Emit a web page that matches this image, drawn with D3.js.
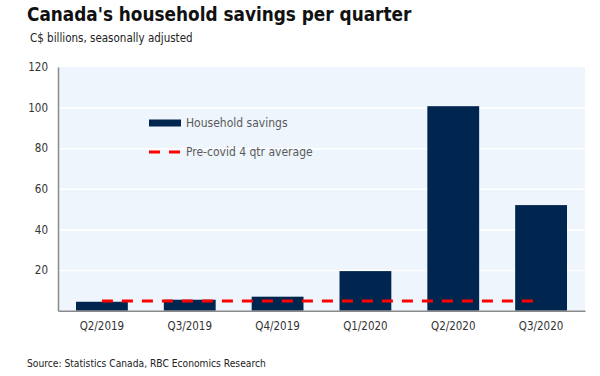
<!DOCTYPE html>
<html>
<head>
<meta charset="utf-8">
<script src="https://cdn.jsdelivr.net/npm/d3@7"></script>
<style>
  body { margin: 0; background: #fff; }
  svg text { font-family: "DejaVu Sans Condensed", "DejaVu Sans", sans-serif; }
  .title { font-size: 18.8px; font-weight: bold; fill: #111; }
  .subtitle { font-size: 11.5px; fill: #222; }
  .tick-label { font-size: 11.5px; fill: #333; }
  .legend-label { font-size: 12px; fill: #5a5a5a; }
  .source { font-size: 10.2px; fill: #222; }
</style>
</head>
<body>
<svg id="chart" width="600" height="376"></svg>
<script>
const width = 600;
const height = 376;

// data
let quarters = ["Q2/2019", "Q3/2019", "Q4/2019", "Q1/2020", "Q2/2020", "Q3/2020"];
let savings = [4.4, 5.4, 6.9, 19.5, 100.7, 52.0];
let preCovidAvg = [4.8, 4.8, 4.8, 4.8, 4.8, 4.8];
let yTicks = [20, 40, 60, 80, 100, 120];

const margin = { top: 67, bottom: 65.3, left: 58, right: 15 };
const navy = "#00264f";
const red = "#ff0000";

let svg = d3.select("svg#chart");

const plotWidth = width - margin.left - margin.right;
const plotHeight = height - margin.top - margin.bottom;

/* SCALES */
let countScale = d3.scaleLinear()
  .domain([0, 120])
  .range([plotHeight, 0]);

let quarterScale = d3.scaleBand()
  .domain(quarters)
  .range([0, plotWidth])
  .paddingInner(0.41)
  .paddingOuter(0.205);

/* TITLES */
svg.append("text")
  .attr("class", "title")
  .attr("x", 27)
  .attr("y", 21)
  .text("Canada's household savings per quarter");

svg.append("text")
  .attr("class", "subtitle")
  .attr("x", 30)
  .attr("y", 42)
  .text("C$ billions, seasonally adjusted");

svg.append("text")
  .attr("class", "source")
  .attr("x", 27)
  .attr("y", 367)
  .text("Source: Statistics Canada, RBC Economics Research");

const plot = svg.append("g").attr("id", "plot")
  .attr("transform", translate(margin.left, margin.top));

// background panel
plot.append("rect")
  .attr("x", 0)
  .attr("y", 0)
  .attr("width", plotWidth)
  .attr("height", plotHeight)
  .style("fill", "#eef5fc");

// grid lines
const gridAxis = d3.axisLeft(countScale).tickValues(yTicks.slice(0, -1))
  .tickSize(-plotWidth).tickFormat("");
let gridGroup = plot.append("g").attr("id", "grid-axis").call(gridAxis);
gridGroup.select(".domain").remove();
gridGroup.selectAll(".tick line").attr("stroke", "#ffffff").attr("stroke-width", 1.5);

/* BARS */
plot.append("g").attr("id", "bars")
  .selectAll("rect")
  .data(quarters.map((q, i) => ({ q: q, v: savings[i] })))
  .enter()
  .append("rect")
    .attr("x", d => quarterScale(d.q))
    .attr("y", d => countScale(d.v))
    .attr("width", quarterScale.bandwidth())
    .attr("height", d => plotHeight - countScale(d.v))
    .style("fill", navy);

/* AVERAGE LINE */
let avgLine = d3.line()
  .x(d => quarterScale(d.q) + quarterScale.bandwidth() / 2)
  .y(d => countScale(d.v));

plot.append("path")
  .datum(quarters.map((q, i) => ({ q: q, v: preCovidAvg[i] })))
  .attr("d", avgLine)
  .attr("fill", "none")
  .attr("stroke", red)
  .attr("stroke-width", 3)
  .attr("stroke-dasharray", "11,9");

/* AXES */
let xAxis = d3.axisBottom(quarterScale).tickSize(0).tickPadding(11);
let yAxis = d3.axisLeft(countScale).tickValues(yTicks).tickSize(0).tickPadding(10);

let xGroup = plot.append("g").attr("id", "x-axis")
  .attr("transform", translate(0, plotHeight))
  .call(xAxis);
let yGroup = plot.append("g").attr("id", "y-axis").call(yAxis);

[xGroup, yGroup].forEach(g => {
  g.select(".domain").attr("stroke", "#8a8a8a").attr("stroke-width", 1.5);
  g.selectAll(".tick text").attr("class", "tick-label").attr("font-family", null).attr("font-size", null);
});

/* LEGEND */
const legendGroup = svg.append("g").attr("id", "legend")
  .attr("transform", translate(149, 123));

legendGroup.append("rect")
  .attr("x", 0)
  .attr("y", -3.5)
  .attr("width", 32)
  .attr("height", 7)
  .style("fill", navy);

legendGroup.append("text")
  .attr("class", "legend-label")
  .attr("x", 37)
  .attr("y", 0)
  .attr("dy", "0.35em")
  .text("Household savings");

legendGroup.append("line")
  .attr("x1", 0)
  .attr("x2", 32)
  .attr("y1", 29)
  .attr("y2", 29)
  .attr("stroke", red)
  .attr("stroke-width", 3)
  .attr("stroke-dasharray", "11,9");

legendGroup.append("text")
  .attr("class", "legend-label")
  .attr("x", 37)
  .attr("y", 29)
  .attr("dy", "0.35em")
  .text("Pre-covid 4 qtr average");

/*
 * returns a translate string for the transform attribute
 */
function translate(x, y) {
  return "translate(" + String(x) + "," + String(y) + ")";
}
</script>
</body>
</html>
